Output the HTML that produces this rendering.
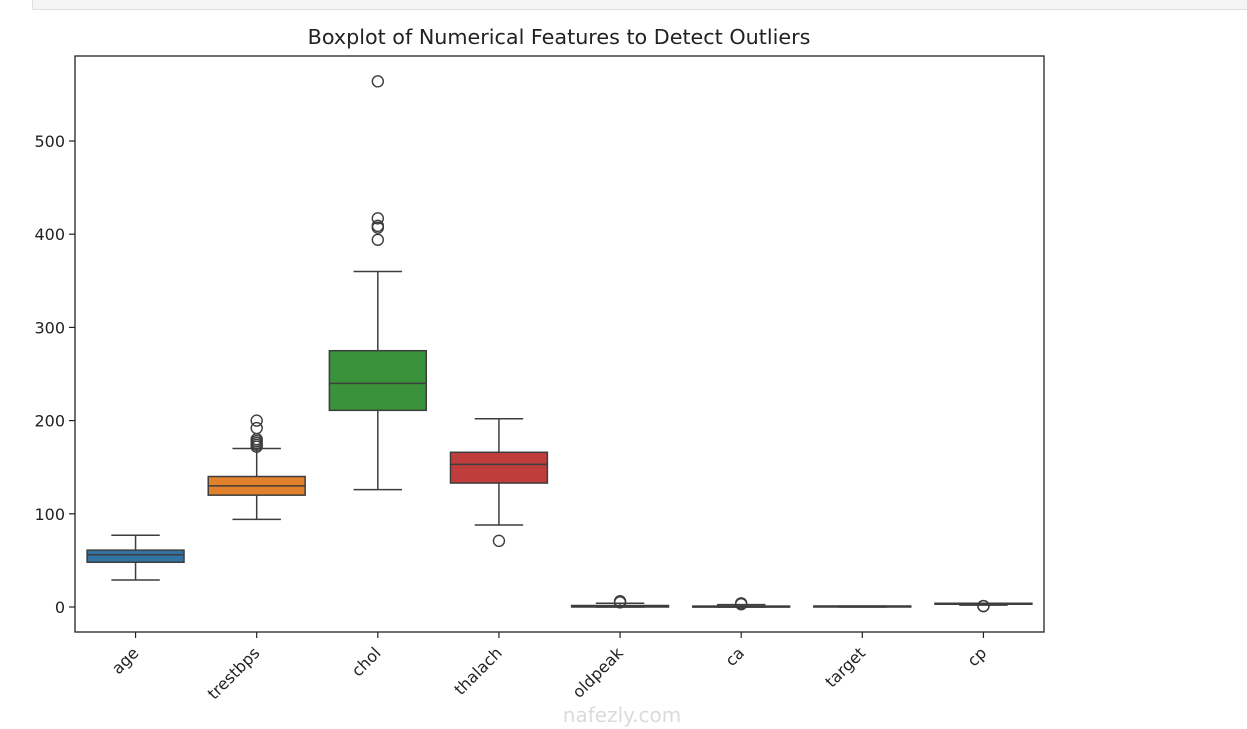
<!DOCTYPE html>
<html><head><meta charset="utf-8"><style>
body{margin:0;background:#fff;width:1247px;height:729px;overflow:hidden;font-family:"Liberation Sans","DejaVu Sans",sans-serif}
</style></head><body>
<div style="position:absolute;left:32px;top:-1px;width:1230px;height:9px;background:#f5f5f5;border:1px solid #e0e0e0"></div>
<svg id="chart" width="1247" height="729" style="position:absolute;left:0;top:0" font-family="DejaVu Sans, Liberation Sans, sans-serif"></svg>
<script>
const categories=["age","trestbps","chol","thalach","oldpeak","ca","target","cp"];
const mins=[29,94,126,88,0,0,0,2];
const q1s=[48,120,211,133,0,0,0,3];
const medians=[56,130,240,153,0.8,0,1,3];
const q3s=[61,140,275,166,1.6,1,1,4];
const maxs=[77,170,360,202,4,2.5,1,4];
const outliers=[[],[172,174,176,178,180,192,200],[394,407,409,417,564],[71],[5,6.2],[3,4],[],[1,1]];
const colors=["#3274a1","#e1812c","#3a923a","#c03d3e","#9372b2","#845b53","#d684bd","#7f7f7f"];
const yTicks=[0,100,200,300,400,500];
const L=75,R=1044,T=56,B=632;
const y=v=>607-v*0.932;
const bw=(R-L)/categories.length;
const x=i=>L+bw*(i+0.5);
const svg=document.getElementById('chart');
const NS="http://www.w3.org/2000/svg";
function mk(tag,attrs,parent){const e=document.createElementNS(NS,tag);for(const k in attrs)e.setAttribute(k,attrs[k]);(parent||svg).appendChild(e);return e;}
let t=mk('text',{x:559,y:44,'text-anchor':'middle','font-size':20.7,fill:'#222'});t.textContent="Boxplot of Numerical Features to Detect Outliers";


yTicks.forEach(v=>{
 const g=mk('g',{});
 
 
 mk('line',{x1:L-6,x2:L,y1:y(v),y2:y(v),stroke:'#222','stroke-width':1.2},g);
 const tt=mk('text',{x:L-10,y:y(v)+6,'text-anchor':'end','font-size':16,fill:'#222'},g);tt.textContent=v;
});
categories.forEach((c,i)=>{
 const g=mk('g',{});
 
 
 const cx=x(i),hw=bw*0.4,cw=bw*0.2;
 mk('line',{x1:cx,x2:cx,y1:y(q3s[i]),y2:y(maxs[i]),stroke:'#3d3d3d','stroke-width':1.5},g);
 mk('line',{x1:cx,x2:cx,y1:y(q1s[i]),y2:y(mins[i]),stroke:'#3d3d3d','stroke-width':1.5},g);
 mk('line',{x1:cx-cw,x2:cx+cw,y1:y(maxs[i]),y2:y(maxs[i]),stroke:'#3d3d3d','stroke-width':1.5},g);
 mk('line',{x1:cx-cw,x2:cx+cw,y1:y(mins[i]),y2:y(mins[i]),stroke:'#3d3d3d','stroke-width':1.5},g);
 const top=y(q3s[i]),bot=y(q1s[i]);
 mk('rect',{x:cx-hw,y:top,width:hw*2,height:Math.max(bot-top,0.5),fill:colors[i],stroke:'#3d3d3d','stroke-width':1.5},g);
 mk('line',{x1:cx-hw,x2:cx+hw,y1:y(medians[i]),y2:y(medians[i]),stroke:'#3d3d3d','stroke-width':1.5},g);
 outliers[i].forEach(o=>mk('circle',{cx:cx,cy:y(o),r:5.5,fill:'none',stroke:'#3d3d3d','stroke-width':1.4},g));
 mk('line',{x1:cx,x2:cx,y1:B,y2:B+6,stroke:'#222','stroke-width':1.2},g);
 const lx=cx+4,ly=B+22;
 const lt=mk('text',{x:lx,y:ly,'text-anchor':'end','font-size':16,fill:'#222',transform:`rotate(-45 ${lx} ${ly})`},g);lt.textContent=c;
});
const frame=mk('rect',{x:L,y:T,width:R-L,height:B-T,fill:'none',stroke:'#222','stroke-width':1.3});


const wm=mk('text',{x:622,y:722,'text-anchor':'middle','font-size':20,fill:'#ccc','opacity':0.7});wm.textContent="nafezly.com";


</script>
</body></html>
